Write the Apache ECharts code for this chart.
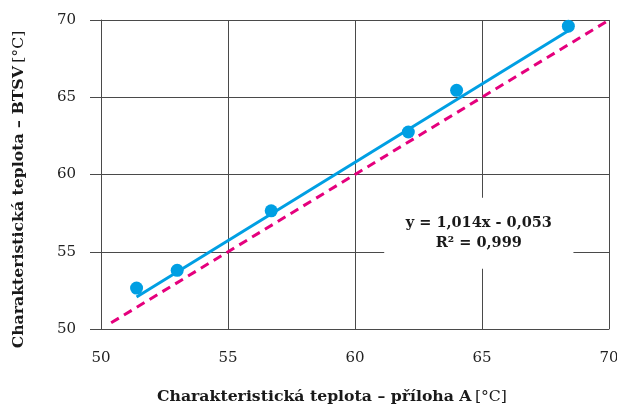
<!DOCTYPE html>
<html>
<head>
<meta charset="utf-8">
<script src="https://cdn.jsdelivr.net/npm/echarts@6/dist/echarts.min.js"></script>
<style>
  html, body { margin: 0; padding: 0; background: #fff; }
  #chart { width: 617px; height: 405px; }
</style>
</head>
<body>
<div id="chart"></div>
<script>
// Measured temperatures: Annex A method (x) vs BTSV method (y), °C
const xAnnexA = [51.4, 53.0, 56.7, 62.1, 64.0, 68.4];
const yBTSV   = [52.65, 53.8, 57.65, 62.75, 65.45, 69.6];

// Linear fit reported on the chart
const slope = 1.014;
const intercept = -0.053;
const r2 = 0.999;

// Axis ranges and tick labels
const axisMin = 50;
const axisMax = 70;
const tickStep = 5;

const fmt = (v, d) => v.toFixed(d).replace('.', ',');

const scatterData = xAnnexA.map((x, i) => [x, yBTSV[i]]);
const fitStart = Math.min(...xAnnexA);
const fitEnd = Math.max(...xAnnexA);
const fitLine = [fitStart, fitEnd].map(x => [x, slope * x + intercept]);
const identityLine = [[50.4, 50.4], [axisMax, axisMax]];

const eqText = 'y = ' + fmt(slope, 3) + 'x ' + (intercept < 0 ? '- ' : '+ ') +
  fmt(Math.abs(intercept), 3) + '\nR² = ' + fmt(r2, 3);

const FONT = '"DejaVu Serif", serif';
const gridColor = '#4a4a4a';
const nameSize = 15.7;

const chart = echarts.init(document.getElementById('chart'), null, { renderer: 'canvas' });

chart.setOption({
  animation: false,
  backgroundColor: '#ffffff',
  grid: { left: 101, right: 8, top: 20, bottom: 76, containLabel: false, outerBoundsMode: 'none' },
  xAxis: {
    type: 'value', min: axisMin, max: axisMax, interval: tickStep,
    name: '{b|Charakteristická teplota – příloha A} {n|[°C]}',
    nameLocation: 'middle', nameGap: 60,
    nameTextStyle: {
      padding: [0, 46, 0, 0],
      rich: {
        b: { fontFamily: FONT, fontWeight: 'bold', fontSize: nameSize, color: '#1a1a1a' },
        n: { fontFamily: FONT, fontSize: nameSize, color: '#1a1a1a' }
      }
    },
    axisLine: { show: true, lineStyle: { color: gridColor, width: 1 } },
    axisTick: { show: false },
    axisLabel: { fontFamily: FONT, fontSize: 15, color: '#222', margin: 22 },
    splitLine: { show: true, lineStyle: { color: gridColor, width: 1 } }
  },
  yAxis: {
    type: 'value', min: axisMin, max: axisMax, interval: tickStep,
    name: '{b|Charakteristická teplota – BTSV} {n|[°C]}',
    nameLocation: 'middle', nameGap: 74, nameRotate: 90,
    nameTextStyle: {
      padding: [0, 30, 0, 0],
      rich: {
        b: { fontFamily: FONT, fontWeight: 'bold', fontSize: nameSize, color: '#1a1a1a' },
        n: { fontFamily: FONT, fontSize: nameSize, color: '#1a1a1a' }
      }
    },
    axisLine: { show: true, lineStyle: { color: gridColor, width: 1 } },
    axisTick: { show: true, inside: false, length: 11, lineStyle: { color: gridColor, width: 1 } },
    axisLabel: { fontFamily: FONT, fontSize: 15, color: '#222', margin: 25 },
    splitLine: { show: true, lineStyle: { color: gridColor, width: 1 } }
  },
  series: [
    {
      name: 'y = x',
      type: 'line',
      data: identityLine,
      showSymbol: false,
      lineStyle: { color: '#e5007d', width: 3, type: [9, 6] },
      z: 3
    },
    {
      name: 'fit',
      type: 'line',
      data: fitLine,
      showSymbol: false,
      lineStyle: { color: '#009fe3', width: 3 },
      z: 4,
      markArea: {
        silent: true,
        itemStyle: { color: '#ffffff', opacity: 1 },
        label: {
          show: true, position: 'inside',
          fontFamily: FONT, fontWeight: 'bold', fontSize: 14.5,
          color: '#1a1a1a', lineHeight: 20, align: 'center'
        },
        data: [[
          { coord: [61.15, 58.5], name: eqText },
          { coord: [68.6, 53.9] }
        ]]
      }
    },
    {
      name: 'points',
      type: 'scatter',
      data: scatterData,
      symbol: 'circle',
      symbolSize: 13,
      itemStyle: { color: '#009fe3', opacity: 1 },
      z: 5
    }
  ]
});
</script>
</body>
</html>
